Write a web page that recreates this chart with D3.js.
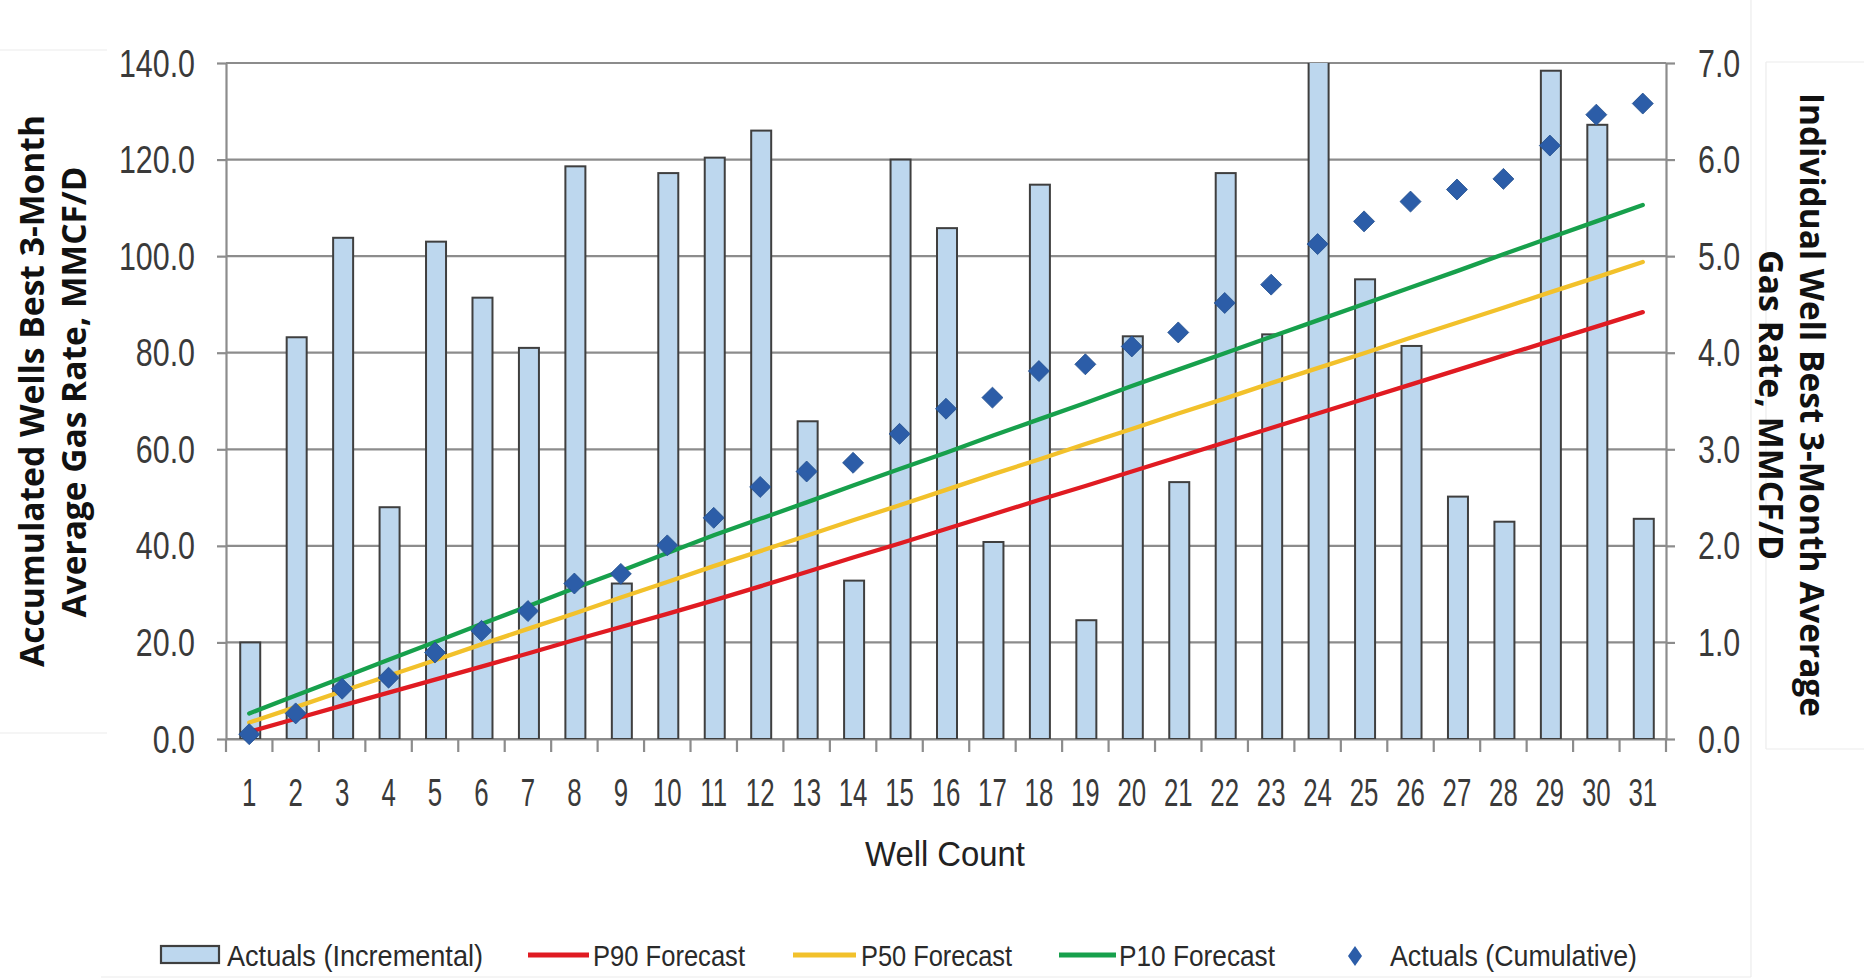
<!DOCTYPE html>
<html>
<head>
<meta charset="utf-8">
<script src="https://cdn.jsdelivr.net/npm/d3@7"></script>
<style>
  html, body { margin: 0; padding: 0; background: #ffffff; }
  svg { display: block; }
</style>
</head>
<body>
<svg id="chart" width="1864" height="979"></svg>
<script>
// ---------------- data ----------------
const categories = ["1","2","3","4","5","6","7","8","9","10","11","12","13","14","15","16",
  "17","18","19","20","21","22","23","24","25","26","27","28","29","30","31"];

// Individual well best 3-month average gas rate (right axis, MMCF/D)
const incremental = [1.00, 4.16, 5.19, 2.40, 5.15, 4.57, 4.05, 5.93, 1.61, 5.86, 6.02, 6.30, 3.29, 1.64,
  6.00, 5.29, 2.04, 5.74, 1.23, 4.17, 2.66, 5.86, 4.19, 8.30, 4.76, 4.07, 2.51, 2.25, 6.92, 6.36, 2.28];

// Accumulated wells best 3-month average gas rate (left axis, MMCF/D)
const cumulative = [1.0, 5.3, 10.4, 12.7, 17.9, 22.4, 26.5, 32.2, 34.2, 40.1, 45.8, 52.2, 55.4, 57.2,
  63.2, 68.4, 70.7, 76.2, 77.6, 81.3, 84.2, 90.3, 94.1, 102.5, 107.2, 111.3, 113.8, 116.0, 122.9, 129.3, 131.6];

const p90 = [1.5, 4.2, 6.9, 9.6, 12.3, 15.0, 17.7, 20.5, 23.2, 25.9, 28.7, 31.6, 34.6, 37.6, 40.5, 43.5,
  46.5, 49.5, 52.4, 55.4, 58.4, 61.4, 64.4, 67.4, 70.4, 73.4, 76.4, 79.4, 82.4, 85.4, 88.4];
const p50 = [3.4, 6.6, 9.9, 13.1, 16.3, 19.6, 22.8, 26.0, 29.3, 32.5, 35.8, 38.9, 42.1, 45.3, 48.4, 51.6,
  54.8, 57.9, 61.1, 64.2, 67.4, 70.5, 73.7, 76.8, 79.9, 83.1, 86.2, 89.3, 92.5, 95.6, 98.8];
const p10 = [5.3, 9.0, 12.7, 16.4, 20.1, 23.8, 27.5, 31.2, 34.8, 38.5, 42.2, 45.6, 49.0, 52.5, 55.9, 59.3,
  62.8, 66.2, 69.6, 73.1, 76.5, 79.9, 83.3, 86.7, 90.1, 93.5, 96.9, 100.4, 103.8, 107.2, 110.6];

const leftTicks = [0, 20, 40, 60, 80, 100, 120, 140];
const rightTicks = [0, 1, 2, 3, 4, 5, 6, 7];

const leftTitle = ["Accumulated Wells Best 3-Month", "Average Gas Rate, MMCF/D"];
const rightTitle = ["Individual Well Best 3-Month Average", "Gas Rate, MMCF/D"];
const xTitle = "Well Count";
const legendLabels = ["Actuals (Incremental)", "P90 Forecast", "P50 Forecast", "P10 Forecast", "Actuals (Cumulative)"];

// ---------------- layout ----------------
const plot = { left: 226, right: 1666, top: 63, bottom: 739 };
const GRID = "#8c8c8c";
const TXT = "#3a3a3a";
const FONT = "'Liberation Sans', Arial, sans-serif";
const BAR_FILL = "#bdd7ee", BAR_STROKE = "#3f3f3f";
const RED = "#e01b22", YEL = "#f2c12b", GRN = "#17a04c", DIA = "#2c5da8";

const svg = d3.select("#chart");

// faint background panel edges (as in the source image)
const bg = svg.append("g").attr("fill", "none").attr("stroke", "#ececec").attr("stroke-width", 1.2);
bg.append("line").attr("x1", 0).attr("x2", 107).attr("y1", 50).attr("y2", 50);
bg.append("line").attr("x1", 0).attr("x2", 107).attr("y1", 733).attr("y2", 733);
bg.append("line").attr("x1", 1751).attr("x2", 1751).attr("y1", 0).attr("y2", 977);
bg.append("line").attr("x1", 101).attr("x2", 1751).attr("y1", 977).attr("y2", 977);
bg.append("line").attr("x1", 1766).attr("x2", 1864).attr("y1", 62).attr("y2", 62);
bg.append("line").attr("x1", 1766).attr("x2", 1864).attr("y1", 749).attr("y2", 749);
bg.append("line").attr("x1", 1766).attr("x2", 1766).attr("y1", 62).attr("y2", 749);

// ---------------- scales ----------------
const x = d3.scaleBand().domain(categories).range([plot.left, plot.right]).padding(0);
const yL = d3.scaleLinear().domain([0, 140]).range([plot.bottom, plot.top]);
const yR = d3.scaleLinear().domain([0, 7]).range([plot.bottom, plot.top]);
const cx = c => x(c) + x.bandwidth() / 2;

// ---------------- gridlines ----------------
svg.append("g").selectAll("line").data(leftTicks).join("line")
  .attr("x1", plot.left).attr("x2", plot.right)
  .attr("y1", d => yL(d)).attr("y2", d => yL(d))
  .attr("stroke", GRID).attr("stroke-width", 2.2);

// ---------------- axes ----------------
const SX = 0.8;    // horizontal condensing of axis numbers
const TICK_FS = 38;

const gL = svg.append("g").attr("transform", `translate(${plot.left},0)`)
  .call(d3.axisLeft(yL).tickValues(leftTicks).tickFormat(d3.format(".1f")).tickSize(9).tickSizeOuter(0));
const gR = svg.append("g").attr("transform", `translate(${plot.right},0)`)
  .call(d3.axisRight(yR).tickValues(rightTicks).tickFormat(d3.format(".1f")).tickSize(9).tickSizeOuter(0));
const gB = svg.append("g").attr("transform", `translate(0,${plot.bottom})`)
  .call(d3.axisBottom(x).tickSize(0).tickSizeOuter(0));

[gL, gR, gB].forEach(g => {
  g.select(".domain").attr("stroke", GRID).attr("stroke-width", 2.2);
  g.selectAll(".tick line").attr("stroke", GRID).attr("stroke-width", 2.2);
  g.selectAll(".tick text").attr("fill", TXT).attr("font-family", FONT).attr("font-size", TICK_FS);
});
gL.selectAll(".tick text").attr("x", -31 / SX).attr("dy", 13)
  .attr("transform", `scale(${SX},1)`);
gR.selectAll(".tick text").attr("x", 32 / SX).attr("dy", 13)
  .attr("transform", `scale(${SX},1)`);
const SXB = 0.68;
gB.selectAll(".tick text").attr("y", 0).attr("dy", 67)
  .attr("transform", `scale(${SXB},1)`);

// bottom tick marks at category boundaries
const bounds = categories.map(c => x(c)).concat([plot.right]);
svg.append("g").selectAll("line").data(bounds).join("line")
  .attr("x1", d => d).attr("x2", d => d)
  .attr("y1", plot.bottom).attr("y2", plot.bottom + 13)
  .attr("stroke", GRID).attr("stroke-width", 2.2);

// ---------------- bars (right axis) ----------------
svg.append("clipPath").attr("id", "plotClip").append("rect")
  .attr("x", plot.left).attr("y", plot.top).attr("width", plot.right - plot.left).attr("height", plot.bottom - plot.top);

const BAR_W = 20;
svg.append("g").attr("clip-path", "url(#plotClip)")
  .selectAll("rect").data(incremental).join("rect")
  .attr("x", (d, i) => cx(categories[i]) - BAR_W / 2 + 1)
  .attr("width", BAR_W)
  .attr("y", d => yR(d))
  .attr("height", d => yR(0) - yR(d))
  .attr("fill", BAR_FILL).attr("stroke", BAR_STROKE).attr("stroke-width", 2);

// ---------------- forecast lines (left axis) ----------------
const line = d3.line().x((d, i) => cx(categories[i])).y(d => yL(d));
[[p90, RED], [p50, YEL], [p10, GRN]].forEach(([arr, col]) => {
  svg.append("path").datum(arr).attr("d", line)
    .attr("fill", "none").attr("stroke", col).attr("stroke-width", 4.3)
    .attr("stroke-linecap", "round");
});

// ---------------- cumulative diamonds ----------------
const diamond = d3.symbol().type(d3.symbolSquare).size(220)();
svg.append("g").selectAll("path").data(cumulative).join("path")
  .attr("d", diamond)
  .attr("transform", (d, i) => `translate(${cx(categories[i])},${yL(d)}) rotate(45)`)
  .attr("fill", DIA).attr("stroke", "#24508f").attr("stroke-width", 0.8);

// ---------------- axis titles ----------------
const TFONT = "'Open Sans', 'Liberation Sans', sans-serif";
function vTitle(text, cxp, cyp, angle, len, fs) {
  svg.append("text")
    .attr("transform", `translate(${cxp},${cyp}) rotate(${angle})`)
    .attr("text-anchor", "middle").attr("dy", "0.36em")
    .attr("font-family", TFONT).attr("font-weight", "bold").attr("font-size", fs)
    .attr("fill", "#111")
    .attr("textLength", len).attr("lengthAdjust", "spacingAndGlyphs")
    .text(text);
}
vTitle(leftTitle[0], 32, 391, -90, 552, 34);
vTitle(leftTitle[1], 74, 392, -90, 451, 34);
vTitle(rightTitle[0], 1812, 405, 90, 624, 34);
vTitle(rightTitle[1], 1771, 405, 90, 310, 34);

svg.append("text")
  .attr("x", 945).attr("y", 866).attr("text-anchor", "middle")
  .attr("font-family", FONT).attr("font-size", 35).attr("fill", "#222")
  .attr("textLength", 160).attr("lengthAdjust", "spacingAndGlyphs")
  .text(xTitle);

// ---------------- legend ----------------
const LEG_Y = 955, LEG_FS = 30;
const lg = svg.append("g");
function legText(t, x0, len) {
  lg.append("text").attr("x", x0).attr("y", LEG_Y + 11)
    .attr("font-family", FONT).attr("font-size", LEG_FS).attr("fill", "#2a2a2a")
    .attr("textLength", len).attr("lengthAdjust", "spacingAndGlyphs")
    .text(t);
}
lg.append("rect").attr("x", 161).attr("y", 946).attr("width", 58).attr("height", 17)
  .attr("fill", BAR_FILL).attr("stroke", BAR_STROKE).attr("stroke-width", 2.2);
legText(legendLabels[0], 227, 256);
lg.append("line").attr("x1", 528).attr("x2", 589).attr("y1", LEG_Y).attr("y2", LEG_Y)
  .attr("stroke", RED).attr("stroke-width", 5);
legText(legendLabels[1], 593, 152);
lg.append("line").attr("x1", 793).attr("x2", 856).attr("y1", LEG_Y).attr("y2", LEG_Y)
  .attr("stroke", YEL).attr("stroke-width", 5);
legText(legendLabels[2], 861, 151);
lg.append("line").attr("x1", 1059).attr("x2", 1116).attr("y1", LEG_Y).attr("y2", LEG_Y)
  .attr("stroke", GRN).attr("stroke-width", 5);
legText(legendLabels[3], 1119, 156);
lg.append("path").attr("d", "M0,-10L7,0L0,10L-7,0Z")
  .attr("transform", `translate(1355,${LEG_Y + 1})`).attr("fill", DIA);
legText(legendLabels[4], 1390, 247);
</script>
</body>
</html>
